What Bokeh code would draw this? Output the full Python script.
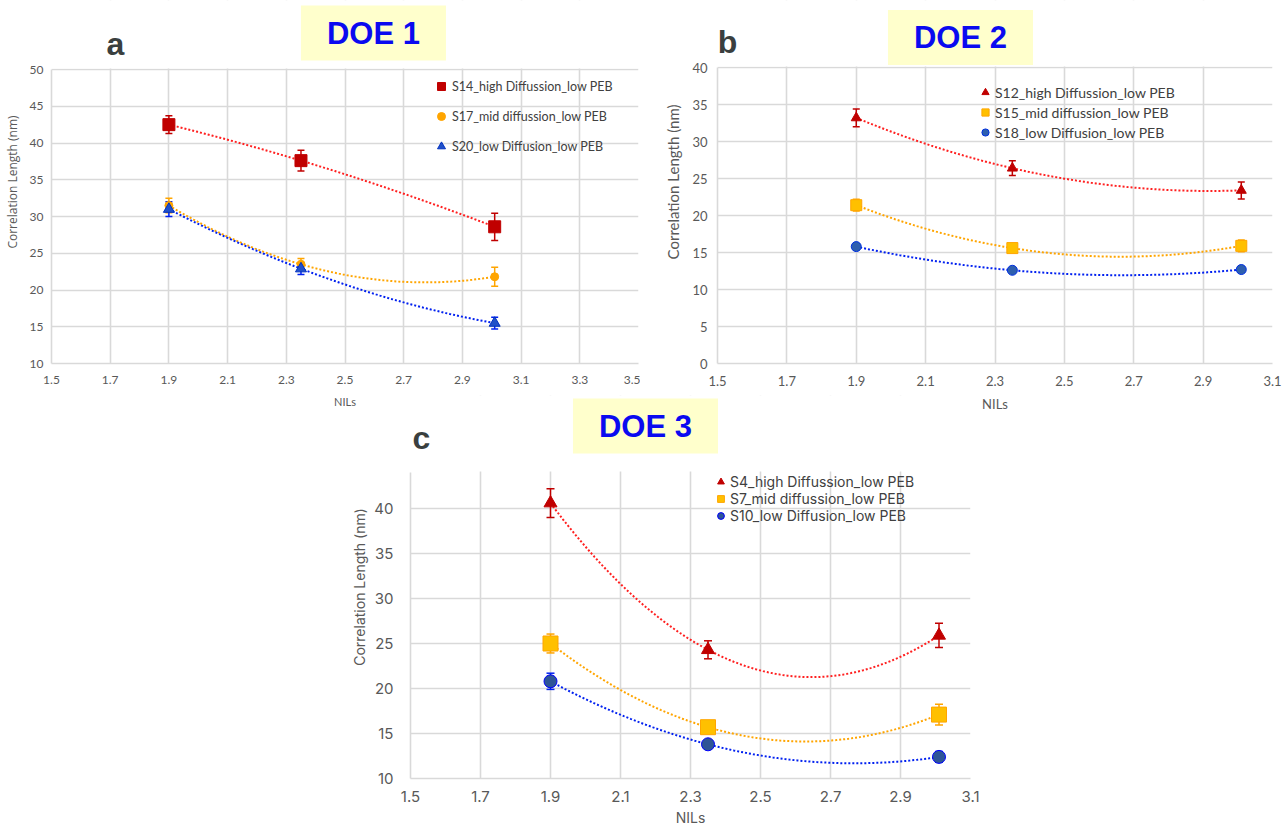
import numpy as np
from bokeh.plotting import figure
from bokeh.models import (ColumnDataSource, Whisker, TeeHead, Legend, LegendItem,
                          Label, FixedTicker, Range1d, BoxAnnotation)
from bokeh.layouts import column, row
from bokeh.embed import file_html
from bokeh.resources import INLINE

# ---------------- data ----------------
nils = [1.9, 2.35, 3.01]

doe1_names = ["S14_high Diffussion_low PEB", "S17_mid diffussion_low PEB", "S20_low Diffusion_low PEB"]
doe1_s14 = [42.5, 37.6, 28.6]
doe1_s14_err = [1.2, 1.4, 1.85]
doe1_s17 = [31.5, 23.5, 21.8]
doe1_s17_err = [1.0, 0.8, 1.3]
doe1_s20 = [31.0, 22.9, 15.5]
doe1_s20_err = [1.0, 0.8, 0.8]

doe2_names = ["S12_high Diffussion_low PEB", "S15_mid diffussion_low PEB", "S18_low Diffusion_low PEB"]
doe2_s12 = [33.2, 26.4, 23.4]
doe2_s12_err = [1.2, 1.0, 1.15]
doe2_s15 = [21.4, 15.6, 15.9]
doe2_s15_err = [0.8, 0.5, 0.8]
doe2_s18 = [15.8, 12.6, 12.7]
doe2_s18_err = [0.4, 0.3, 0.4]

doe3_names = ["S4_high Diffussion_low PEB", "S7_mid diffussion_low PEB", "S10_low Diffusion_low PEB"]
doe3_s4 = [40.6, 24.3, 25.9]
doe3_s4_err = [1.6, 1.0, 1.35]
doe3_s7 = [25.0, 15.7, 17.1]
doe3_s7_err = [1.05, 0.4, 1.15]
doe3_s10 = [20.8, 13.8, 12.4]
doe3_s10_err = [0.9, 0.4, 0.6]

x_ticks_a = [1.5, 1.7, 1.9, 2.1, 2.3, 2.5, 2.7, 2.9, 3.1, 3.3, 3.5]
y_ticks_a = [10, 15, 20, 25, 30, 35, 40, 45, 50]
x_ticks_bc = [1.5, 1.7, 1.9, 2.1, 2.3, 2.5, 2.7, 2.9, 3.1]
y_ticks_b = [0, 5, 10, 15, 20, 25, 30, 35, 40]
y_ticks_c = [10, 15, 20, 25, 30, 35, 40]

y_title = "Correlation Length (nm)"
x_title = "NILs"

GRID = "#D9D9D9"
TXT = "#595959"
DARKRED = "#C00000"
RED = "#FF2020"
ORANGE = "#FFA500"
GOLD = "#FFC000"
BLUE = "#0020F0"


class Panel:
    """Figure whose frame runs from the canvas top, so annotations above the plotted
    area stay inside the frame; the part above the data range is masked white."""

    def __init__(self, width, height, xr, yr, left, right, data_top, bottom_px, xt, yt,
                 tick_font, tick_size, ytitle_font, ytitle_size, xtitle_font, xtitle_size,
                 x_stand, y_stand, xl_stand, yl_stand):
        self.L = left
        self.R = width - right
        self.B = bottom_px
        self.x0, self.x1 = xr
        self.y0, self.y1 = yr
        self.xppu = (self.R - self.L) / (self.x1 - self.x0)
        self.yppu = (self.B - data_top) / (self.y1 - self.y0)
        y_end = self.y1 + data_top / self.yppu
        p = figure(width=width, height=height, x_range=Range1d(self.x0, self.x1),
                   y_range=Range1d(self.y0, y_end),
                   output_backend="svg", toolbar_location=None,
                   min_border_left=left, min_border_right=right,
                   min_border_top=0, min_border_bottom=height - bottom_px)
        p.outline_line_color = None
        p.xaxis.ticker = FixedTicker(ticks=xt)
        p.yaxis.ticker = FixedTicker(ticks=yt)
        p.xgrid.ticker = FixedTicker(ticks=xt)
        p.ygrid.ticker = FixedTicker(ticks=yt)
        p.grid.grid_line_color = GRID
        p.grid.grid_line_width = 1.6
        p.yaxis.bounds = (self.y0, self.y1)
        # white mask over the title area, above the data range
        p.add_layout(BoxAnnotation(bottom=self.dy(data_top - 1), fill_color="white",
                                   fill_alpha=1, line_color=None, level="underlay"))
        for ax in (p.xaxis[0], p.yaxis[0]):
            ax.axis_line_color = GRID
            ax.axis_line_width = 1.6
            ax.major_tick_line_color = None
            ax.minor_tick_line_color = None
            ax.major_tick_out = 0
            ax.major_tick_in = 0
            ax.minor_tick_out = 0
            ax.minor_tick_in = 0
            ax.major_label_text_font = tick_font
            ax.major_label_text_font_size = tick_size
            ax.major_label_text_color = TXT
            ax.axis_label_text_font_style = "normal"
            ax.axis_label_text_color = TXT
        p.xaxis.major_label_standoff = x_stand
        p.yaxis.major_label_standoff = y_stand
        p.xaxis.axis_label = x_title
        p.yaxis.axis_label = y_title
        p.xaxis.axis_label_text_font = xtitle_font
        p.xaxis.axis_label_text_font_size = xtitle_size
        p.yaxis.axis_label_text_font = ytitle_font
        p.yaxis.axis_label_text_font_size = ytitle_size
        p.xaxis.axis_label_standoff = xl_stand
        p.yaxis.axis_label_standoff = yl_stand
        self.p = p

    def dx(self, px):
        return self.x0 + (px - self.L) / self.xppu

    def dy(self, py):
        return self.y0 + (self.B - py) / self.yppu

    def series(self, x, y, err, marker, size, fill, line, errc, trendc, head=7):
        p = self.p
        xf = np.linspace(min(x), max(x), 160)
        yf = np.polyval(np.polyfit(x, y, 2), xf)
        p.line(xf, yf, line_color=trendc, line_width=2, line_dash="2 2")
        src = ColumnDataSource(dict(x=list(x), y=list(y),
                                    lo=[v - e for v, e in zip(y, err)],
                                    hi=[v + e for v, e in zip(y, err)]))
        w = Whisker(source=src, base="x", upper="hi", lower="lo",
                    line_color=errc, line_width=1.5,
                    upper_head=TeeHead(size=head, line_color=errc, line_width=1.5),
                    lower_head=TeeHead(size=head, line_color=errc, line_width=1.5))
        p.add_layout(w)
        return p.scatter("x", "y", source=src, marker=marker, size=size,
                         fill_color=fill, line_color=line, line_width=1)

    def legend(self, names, rends, first_cx, first_cy, font, size, item_h, spacing, glyph_w):
        n = len(names)
        h = n * item_h + (n - 1) * spacing
        top = first_cy - item_h / 2
        vx = int(round(first_cx - glyph_w / 2 - self.L))
        vy = int(round(self.B - (top + h)))
        lg = Legend(items=[LegendItem(label=nm, renderers=[r]) for nm, r in zip(names, rends)],
                    location=(vx, vy), border_line_color=None, background_fill_alpha=0,
                    padding=0, margin=0, spacing=spacing, glyph_height=item_h,
                    glyph_width=glyph_w, label_height=item_h, label_standoff=1,
                    label_text_font=font, label_text_font_size=size,
                    label_text_color="#404040")
        self.p.add_layout(lg)

    def titles(self, doe_text, doe_cx, doe_cy, letter, lcx, lcy):
        self.p.add_layout(Label(x=self.dx(doe_cx), y=self.dy(doe_cy), text=doe_text,
                                text_align="center", text_baseline="middle",
                                text_font="Liberation Sans", text_font_style="bold",
                                text_font_size="31px", text_color="#0A0AF0",
                                background_fill_color="#FFFFCC",
                                padding=dict(left=26, right=26, top=10, bottom=10)))
        self.p.add_layout(Label(x=self.dx(lcx), y=self.dy(lcy), text=letter,
                                text_align="center", text_baseline="middle",
                                text_font="Liberation Sans", text_font_style="bold",
                                text_font_size="32px", text_color="#3A3F3F"))


# ---------------- panel a ----------------
A = Panel(640, 420, (1.5, 3.5), (10, 50), 50, 2, 69, 363, x_ticks_a, y_ticks_a,
          "Lato", "12px", "Open Sans", "12px", "Lato", "11px", 12, 8, 8, 6)
ra1 = A.series(nils, doe1_s14, doe1_s14_err, "square", 12, DARKRED, DARKRED, DARKRED, RED)
ra2 = A.series(nils, doe1_s17, doe1_s17_err, "circle", 8, ORANGE, ORANGE, ORANGE, ORANGE)
ra3 = A.series(nils, doe1_s20, doe1_s20_err, "triangle", 11, "#2050C8", "#0030C0", BLUE, BLUE)
A.legend(doe1_names, [ra1, ra2, ra3], 440, 86, "Lato", "12.5px", 20, 10, 20)
A.titles("DOE 1", 372.5, 32.5, "a", 114, 43)

# ---------------- panel b ----------------
B = Panel(645, 420, (1.5, 3.1), (0, 40), 77, 13, 68, 368, x_ticks_bc, y_ticks_b,
          "Lato", "13px", "Lato", "15px", "Lato", "13px", 12, 10, 7, 7)
rb1 = B.series(nils, doe2_s12, doe2_s12_err, "triangle", 10, DARKRED, DARKRED, DARKRED, RED)
rb2 = B.series(nils, doe2_s15, doe2_s15_err, "square", 11, GOLD, ORANGE, ORANGE, ORANGE)
rb3 = B.series(nils, doe2_s18, doe2_s18_err, "circle", 10, "#2E5FAF", "#0030E0", BLUE, BLUE)
B.legend(doe2_names, [rb1, rb2, rb3], 345, 97, "Lato", "14px", 18, 2, 18)
B.titles("DOE 2", 320, 37.5, "b", 87, 42)

# ---------------- panel c ----------------
C = Panel(640, 435, (1.5, 3.1), (10, 44), 70, 10, 77, 383, x_ticks_bc, y_ticks_c,
          "Inter", "15px", "Inter", "14px", "Inter", "14px", 12, 17, 4, 3)
rc1 = C.series(nils, doe3_s4, doe3_s4_err, "triangle", 13, DARKRED, DARKRED, DARKRED, RED, 8)
rc2 = C.series(nils, doe3_s7, doe3_s7_err, "square", 15, GOLD, ORANGE, ORANGE, ORANGE, 8)
rc3 = C.series(nils, doe3_s10, doe3_s10_err, "circle", 13, "#2E5597", "#0000FF", BLUE, BLUE, 8)
C.legend(doe3_names, [rc1, rc2, rc3], 380, 86, "Inter", "14px", 17, 0, 17)
C.titles("DOE 3", 305, 30.5, "c", 81, 42)
pc = C.p
pc.border_fill_color = None
pc.background_fill_color = None
pc.margin = (-25, 0, 0, 340)

layout = column(row(A.p, B.p), pc)

open("out.html", "w").write(file_html(layout, INLINE))
